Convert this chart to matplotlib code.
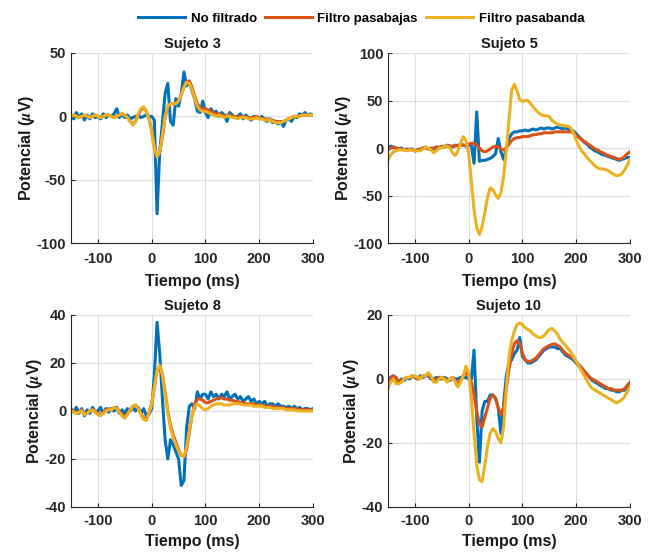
import numpy as np
import matplotlib
matplotlib.use('Agg')
import matplotlib.pyplot as plt

plt.rcParams['font.family'] = ['Liberation Sans', 'DejaVu Sans']
plt.rcParams['font.weight'] = 'bold'
plt.rcParams['mathtext.fontset'] = 'stix'
plt.rcParams['axes.unicode_minus'] = False

# tiempo en ms, paso de 5 ms
t = np.arange(-150, 301, 5)

s3_raw = [1, -2, 3, -1, 2, -3, 1, -2, 2, -1,
          0, -2, 2, -1, 1, 0, 2, 6, -1, 2,
          -1, 1, -2, -1, 0, 1, -1, 0, 1, 0,
          0, -3, -77, -28, -5, 18, 26, -4, -7, 14,
          8, 18, 35, 24, 27, 20, 14, 4, 3, 12,
          3, -1, 6, 3, 4, 0, 3, 1, -4, 3,
          1, -1, 0, 2, -2, 1, -1, -3, 0, -1,
          -2, 0, -3, -4, -2, -5, -4, -6, -4, -8,
          -3, -2, -4, 0, -1, 2, 1, 3, 1, 2,
          1]
s3_low = [0, 1, 0, -1, 0, 1, 0, -1, 0, 1,
          0, -1, 0, 1, 1, 0, -1, 0, 1, 2,
          1, -1, -4, -6, -4, 1, 5, 7, 4, -2,
          -11, -24, -31, -28, -16, -1, 8, 10, 10, 10,
          12, 17, 23, 27, 28, 23, 16, 10, 7, 6,
          6, 5, 4, 3, 2, 2, 1, 0, 1, 1,
          0, 0, -1, 0, 0, -1, -1, -1, -1, 0,
          -1, -2, -2, -2, -3, -3, -4, -4, -5, -4,
          -3, -2, -1, 0, 0, 0, 1, 1, 1, 1,
          1]
s3_band = [0, 1, 0, -1, 0, 1, 0, -1, 0, 1,
           0, -1, 0, 1, 1, 0, -1, 0, 1, 2,
           1, -1, -4, -7, -4, 2, 6, 7.5, 4, -2,
           -12, -25, -32, -28, -15, 0, 8, 10, 10, 10,
           12, 17, 23, 27, 26, 21, 14, 8, 5, 4,
           4, 3, 2, 1, 0, 1, 0, -1, 0, 0,
           -1, -1, -2, -1, -1, -1, -2, -2, -2, -1,
           -2, -2, -3, -3, -3, -4, -5, -5, -5, -4,
           -3, -2, -1, 0, 0, 0, 1, 1, 1, 1,
           1]

s5_raw = [0, 2, 1, 0, -1, 0, -2, -1, -2, -1,
          -3, -2, -2, 0, 1, -1, 0, -1, 1, 0,
          2, 1, 3, 2, 1, 3, 2, 4, 3, 2,
          3, 3, -16, 38, -14, -13, -13, -12, -11, -9,
          -6, 10, -4, -12, 0, 10, 15, 17, 17, 18,
          18, 19, 18, 19, 20, 19, 20, 21, 20, 21,
          21, 20, 21, 22, 21, 20, 21, 20, 19, 18,
          15, 12, 9, 6, 4, 1, -1, -3, -4, -6,
          -7, -8, -9, -10, -11, -12, -13, -12, -11, -10,
          -10]
s5_low = [-2, 0, 1, 0, -1, -1, -2, -2, -1, -2,
          -3, -2, -1, 0, 0, -1, -1, 0, 1, 1,
          1, 2, 2, 2, 2, 2, 3, 3, 3, 3,
          4, 5, 5, 3, 0, -3, -4, -3, -1, 1,
          2, 1, -1, -2, 0, 4, 8, 10, 11, 11,
          12, 12, 12, 13, 14, 14, 15, 15, 16, 16,
          16, 16, 17, 17, 17, 17, 17, 17, 17, 16,
          13, 11, 9, 7, 5, 3, 1, -1, -2, -4,
          -5, -7, -8, -9, -10, -11, -12, -11, -9, -6,
          -4]
s5_band = [-13, -7, -4, -3, -2, -2, -2, -3, -2, -2,
           -3, -3, -3, -1, 1, 0, -2, -5, -3, 0,
           0, 2, 2, 0, -5, -8, -3, 5, 12, 8,
           -6, -35, -65, -84, -91, -83, -68, -52, -42, -44,
           -49, -53, -47, -30, -2, 30, 61, 67, 60, 51,
           49, 50, 50, 47, 43, 40, 37, 35, 34, 34,
           33, 29, 27, 25, 24, 24, 23, 23, 21, 16,
           8, 2, -3, -6, -10, -13, -16, -19, -21, -22,
           -22, -23, -24, -26, -28, -29, -29, -27, -23, -18,
           -12]

s8_raw = [1, -0.5, 1.5, -1, 1, -2, 0.5, -1, 1.5, -0.5,
          0, 1.5, -1, 1, -0.5, 1, 0, 1.5, -1, 0.5,
          -1, 1, 0, 1.5, 0, 1.5, -1, 1, -2, -1.5,
          1, 15, 37, 24, 5, -12, -20, -12, -14, -17,
          -20, -31, -29, -7, 2, 3, 1, 8, 5, 7,
          7, 5, 8, 6, 7, 5, 7, 6, 8, 5,
          6, 7, 5, 6, 4, 5, 6, 4, 5, 3,
          4, 3, 4, 2, 3, 3, 2, 3, 2, 2,
          1.5, 2, 1, 2, 1, 1.5, 0.5, 1, 1, 0.5,
          1]
s8_low = [0.5, 0, -1, -0.5, 0.5, -1, -1, 0, 0.5, 0,
          -1, -1.5, -0.5, 0.5, 1, 0.5, 1.5, 1, 0, -1.5,
          -2.5, -1, 0.5, 2, 2.5, 1, -1, -3, -3.5, -0.5,
          3, 10, 17, 18.5, 15, 8, 0, -6, -10, -13,
          -16, -18.5, -19, -16, -9, -2, 3, 5, 5, 4.5,
          3.5, 3.5, 4, 4.5, 5, 5.5, 5.5, 5, 5, 4.5,
          4.5, 4, 4, 3.5, 3.5, 3, 3, 3, 3, 2.5,
          2.5, 2.5, 2, 2, 2, 2, 1.5, 1.5, 1.5, 1.5,
          1, 1, 1, 1, 1, 0.5, 0.5, 0.5, 0.5, 0.5,
          0.5]
s8_band = [0, -0.5, -1, -0.5, 0, -1.5, -1, 0, 0.5, -0.5,
           -1.5, -2, -1, 0, 0.5, 0.5, 1.5, 1, -0.5, -2,
           -3, -1.5, 0.5, 2, 2.5, 1, -1.5, -3.5, -4, -1,
           3, 10, 17, 19, 15, 7, -1, -7, -11, -14,
           -16.5, -18.5, -19, -15, -8, -2, 2, 3, 2, 1,
           0.5, 1, 2, 2.5, 3, 3, 3, 2.5, 2.5, 2.5,
           3, 3, 3, 3, 2.5, 2.5, 2.5, 2.5, 2, 2,
           2, 2, 1.5, 1.5, 1.5, 1, 1, 1, 1, 1,
           0.5, 0.5, 0.5, 0.5, 0, 0, 0, 0, 0, 0,
           0]

s10_raw = [-0.5, 0.5, 1, 0, -1, 0, -0.5, 0.5, 0, 1,
           0.5, 0, 1, 0.5, 1, 1, 0, 0, 0.5, 0,
           0, 0.5, 0, -0.5, 0.5, 0, 0, 0.5, 0.5, 0.5,
           0, 0, 9, -12, -26, -10, -7, -7, -5, -5,
           -6, -9, -17, -8, 1, 5, 6, 8, 9, 13,
           7, 6, 5, 5, 5.5, 6, 7, 8, 9, 9.5,
           10, 10, 10, 9.5, 9.5, 8.5, 7.5, 7, 6.5, 6,
           5, 4, 3.5, 2, 1.5, 0.5, -0.5, -1, -1.5, -2,
           -2.5, -3, -3, -3.5, -3.5, -4, -4, -3.5, -3.5, -2.5,
           -2]
s10_low = [-1, 0, 1, 0.5, -1, -0.5, 0, 0.5, 0.5, 1,
           0.5, 0, 0.5, 1, 1, 1.5, 0.5, -0.5, 0, 0.5,
           0.5, 0, -0.5, 0, 0.5, -0.5, -1.5, -0.5, 1, 2,
           1, -1, -5, -10, -14, -15, -12, -9, -6, -5,
           -6, -9, -11, -9, -3, 3, 8, 11, 12, 11,
           8, 6, 5.5, 5.5, 6, 6.5, 7.5, 8.5, 9.5, 10,
           10.5, 10.8, 11, 10.5, 10, 9, 8, 7.5, 7, 6.5,
           5.5, 4.5, 3.5, 2.5, 1.5, 0.5, 0, -0.5, -1, -1.5,
           -2, -2.5, -3, -3, -3.5, -3.5, -3.5, -3.5, -3, -2,
           -1]
s10_band = [-3, -1, 0, -1.5, -1.5, -1, 0, 0.5, 0.5, 1,
            1, 0.5, 0, 1, 1, 2, 1, -1, -1, 0,
            0.5, 0, -1, 0, 0.5, -1, -2.5, -1, 1, 4,
            2, -6, -17, -27, -31.5, -32, -27, -21, -17, -15.5,
            -16.5, -18.5, -20, -15, -3, 7, 12, 15, 17, 17.5,
            17, 16, 15.5, 15, 14, 13.5, 13, 13, 13.5, 14.5,
            15.5, 15.8, 15, 14, 12.5, 11.5, 10.5, 9.5, 8.5, 7,
            5.5, 4, 2.5, 1, -0.5, -2, -3, -3.5, -4, -4.5,
            -5, -5.5, -6, -6.5, -7, -7.5, -7, -6.5, -5.5, -4,
            -2.5]

titles = ['Sujeto 3', 'Sujeto 5', 'Sujeto 8', 'Sujeto 10']
raws = [s3_raw, s5_raw, s8_raw, s10_raw]
lows = [s3_low, s5_low, s8_low, s10_low]
bands = [s3_band, s5_band, s8_band, s10_band]
ylims = [(-100, 50), (-100, 100), (-40, 40), (-40, 20)]
yticks = [[-100, -50, 0, 50], [-100, -50, 0, 50, 100],
          [-40, -20, 0, 20, 40], [-40, -20, 0, 20]]
xticks = [-100, 0, 100, 200, 300]
labels = ['No filtrado', 'Filtro pasabajas', 'Filtro pasabanda']

W, H = 651, 552
rects = [(71, 53), (388, 53), (71, 315), (388, 315)]
heights = [190, 190, 192, 192]
xpads = [6.5, 6.5, 5, 5]
xlabpads = [6, 6, 4.5, 4.5]

fig = plt.figure(figsize=(W / 100, H / 100), dpi=100)
for i in range(4):
    x0, y0 = rects[i]
    ax = fig.add_axes([x0 / W, 1 - (y0 + heights[i]) / H, 242 / W, heights[i] / H])
    l1, = ax.plot(t, raws[i], color='#0072BD', lw=2.2)
    l2, = ax.plot(t, lows[i], color='#D95319', lw=2.2)
    l3, = ax.plot(t, bands[i], color='#EDB120', lw=2.2)
    ax.set_xlim(-150, 300)
    ax.set_ylim(*ylims[i])
    ax.set_xticks(xticks)
    ax.set_yticks(yticks[i])
    ax.grid(True, color='#dedede', lw=0.8)
    ax.set_axisbelow(True)
    ax.spines['top'].set_visible(False)
    ax.spines['right'].set_visible(False)
    for s in ['left', 'bottom']:
        ax.spines[s].set_color('#262626')
    ax.tick_params(direction='in', length=3, labelsize=10.5, colors='#262626')
    ax.tick_params(axis='x', pad=xpads[i])
    ax.tick_params(axis='y', pad=3.5)
    ax.set_title(titles[i], fontsize=10.5, fontweight='bold', color='#1a1a1a', pad=3.5)
    ax.set_xlabel('Tiempo (ms)', fontsize=11.5, fontweight='bold', color='#1a1a1a', labelpad=xlabpads[i])
    ax.set_ylabel(r'Potencial ($\mu$V)', fontsize=11.5, fontweight='bold', color='#1a1a1a', labelpad=-0.5)

fig.legend([l1, l2, l3], labels, loc='center', bbox_to_anchor=(361 / W, 1 - 19 / H),
           ncol=3, frameon=False, fontsize=9.5, handlelength=3.6,
           handletextpad=0.4, columnspacing=0.6)

fig.savefig('out.png', dpi=100)
